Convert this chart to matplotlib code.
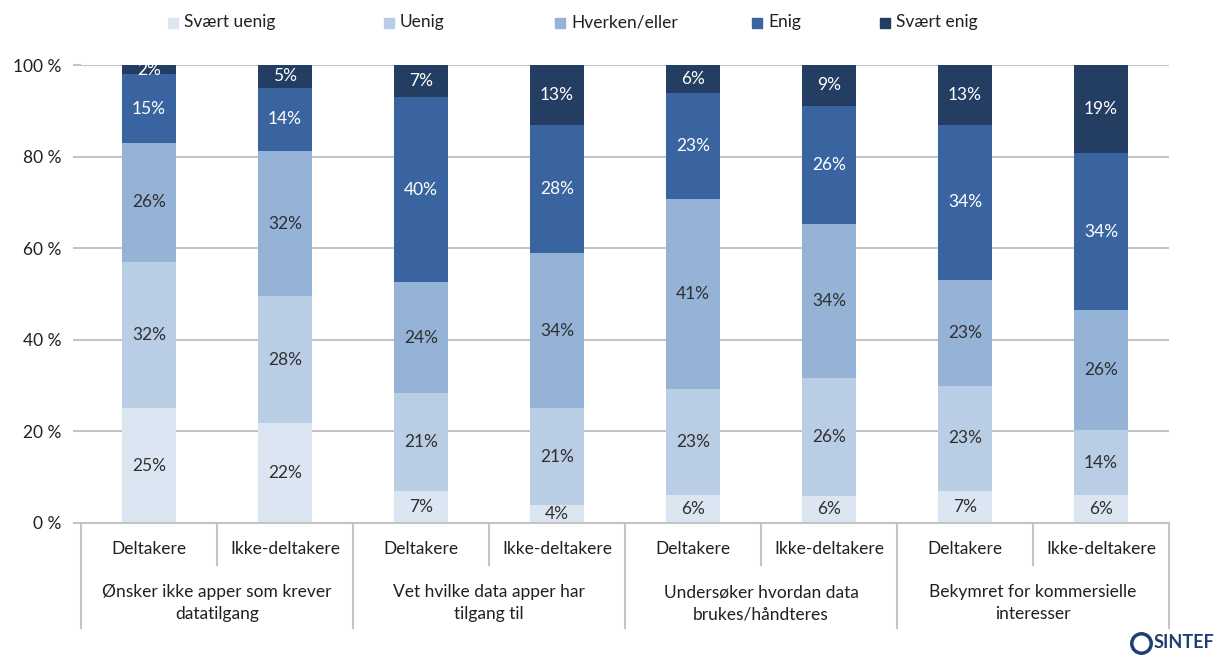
import matplotlib.pyplot as plt
import numpy as np
from matplotlib.patches import Rectangle
from matplotlib.lines import Line2D
from matplotlib.transforms import blended_transform_factory

plt.rcParams['font.family'] = ['Lato', 'DejaVu Sans']

# answer categories (bottom to top in each stack)
levels = ['Svært uenig', 'Uenig', 'Hverken/eller', 'Enig', 'Svært enig']
colors = ['#dce6f2', '#b9cde5', '#95b3d7', '#3a64a0', '#243d63']
text_colors = ['#303030', '#303030', '#303030', 'white', 'white']

groups = ['Ønsker ikke apper som krever\ndatatilgang',
          'Vet hvilke data apper har\ntilgang til',
          'Undersøker hvordan data\nbrukes/håndteres',
          'Bekymret for kommersielle\ninteresser']
subgroups = ['Deltakere', 'Ikke-deltakere']

# percent per bar, one list per answer category
svaert_uenig = [25, 22, 7, 4, 6, 6, 7, 6]
uenig = [32, 28, 21, 21, 23, 26, 23, 14]
hverken = [26, 32, 24, 34, 41, 34, 23, 26]
enig = [15, 14, 40, 28, 23, 26, 34, 34]
svaert_enig = [2, 5, 7, 13, 6, 9, 13, 19]
series = [svaert_uenig, uenig, hverken, enig, svaert_enig]

# 100 % stacked: each bar is scaled by its own total (rounded labels don't always sum to 100)
totals = np.sum(series, axis=0).astype(float)

fig = plt.figure(figsize=(12.19, 6.57), dpi=100)
ax = fig.add_axes([0.0665, 0.204, 0.8925, 0.697])

x = np.arange(len(svaert_uenig))
bottom = np.zeros(len(x))
for vals, c, tc in zip(series, colors, text_colors):
    share = np.array(vals, dtype=float) / totals * 100
    ax.bar(x, share, 0.4, bottom=bottom, color=c, zorder=2)
    for xi, b, s, v in zip(x, bottom, share, vals):
        ax.text(xi, b + s / 2, f'{v}%', ha='center', va='center',
                fontsize=12.5, color=tc, zorder=3)
    bottom += share

ax.set_xlim(-0.5, len(x) - 0.5)
ax.set_ylim(0, 100)
ax.set_yticks(range(0, 101, 20))
ax.set_yticklabels([f'{v} %' for v in range(0, 101, 20)], fontsize=12.5, color='#202020')
ax.yaxis.grid(True, color='#c4c4c4', linewidth=1.5, zorder=0)
ax.tick_params(axis='y', length=6, color='#c4c4c4', width=1.5, pad=8)
ax.tick_params(axis='x', length=0, labelbottom=False)
for side in ['left', 'right', 'top']:
    ax.spines[side].set_visible(False)
ax.spines['bottom'].set_color('#c4c4c4')
ax.spines['bottom'].set_linewidth(1.5)

# two-level category axis
tr = blended_transform_factory(ax.transData, ax.transAxes)
for i, xi in enumerate(x):
    ax.text(xi, -0.057, subgroups[i % 2], transform=tr, ha='center', va='center',
            fontsize=12.5, color='#202020')
for g, name in enumerate(groups):
    ax.text(2 * g + 0.5, -0.175, name, transform=tr, ha='center', va='center',
            fontsize=12.5, color='#202020', linespacing=1.45)
for xs in np.arange(-0.5, len(x), 1.0):
    major = int(round(xs + 0.5)) % 2 == 0
    ax.plot([xs, xs], [0, -0.229 if major else -0.092], transform=tr,
            color='#c4c4c4', linewidth=1.5, clip_on=False)

# legend row across the top
legend_x = [168, 384, 555, 752, 880]
for lx, name, c in zip(legend_x, levels, colors):
    fig.patches.append(Rectangle((lx / 1219, 1 - 28 / 657), 10 / 1219, 10 / 657,
                                 transform=fig.transFigure, color=c))
    fig.text((lx + 16) / 1219, 1 - 22 / 657, name, ha='left', va='center',
             fontsize=12.5, color='#202020')

# SINTEF mark
fig.add_artist(Line2D([1141 / 1219], [1 - 643 / 657], transform=fig.transFigure,
                      marker='o', markersize=14, markerfacecolor='white',
                      markeredgecolor='#1f3f73', markeredgewidth=2.5))
fig.text(1154 / 1219, 1 - 643 / 657, 'SINTEF', ha='left', va='center',
         fontsize=13, fontweight='bold', color='#1f3f73')

fig.savefig('out.png', dpi=100)
